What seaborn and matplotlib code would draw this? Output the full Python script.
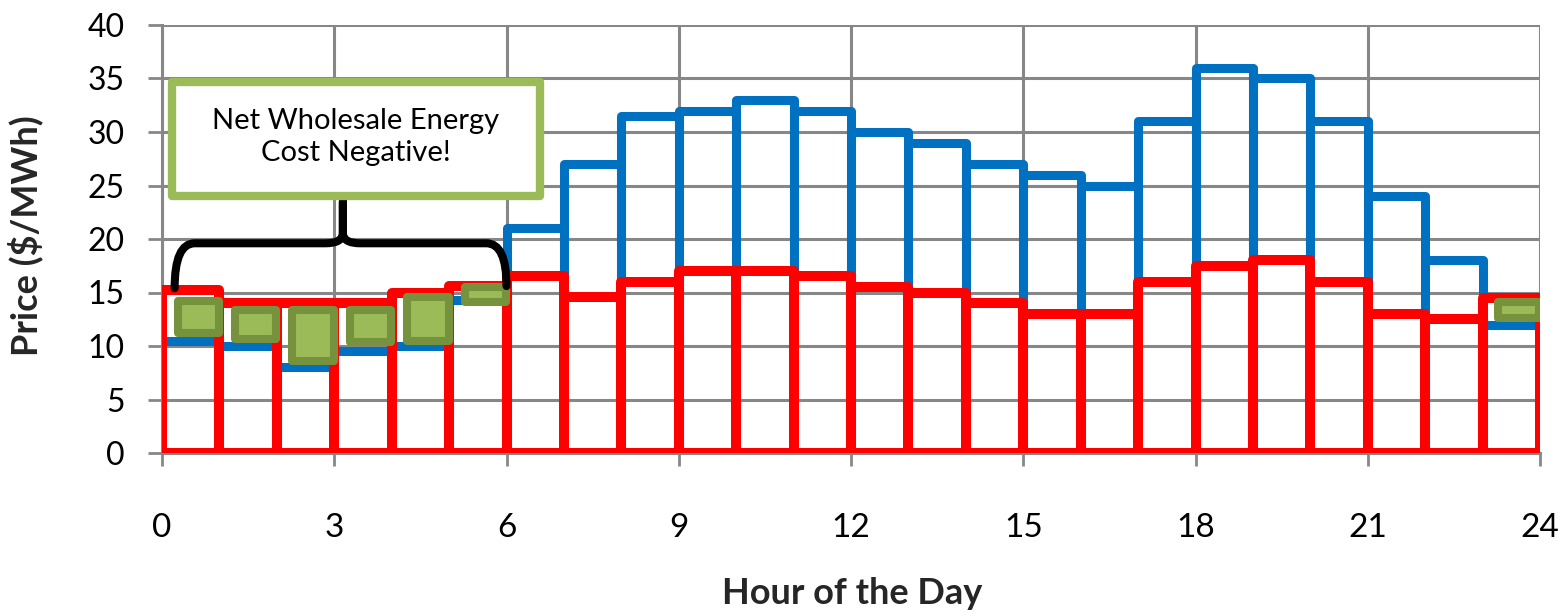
import numpy as np
import pandas as pd
import matplotlib
matplotlib.use("Agg")
import matplotlib.pyplot as plt
from matplotlib.patches import Rectangle, PathPatch
from matplotlib.path import Path
import seaborn as sns

# ---- data ----
hours = list(range(24))
blue_price = [10.5, 10, 8, 9.5, 10, 14.3, 21, 27, 31.5, 32, 33, 32,
              30, 29, 27, 26, 25, 31, 36, 35, 31, 24, 18, 12]
red_price = [15.2, 14, 14, 14, 15, 15.6, 16.5, 14.6, 16, 17, 17, 16.5,
             15.5, 15, 14, 13, 13, 16, 17.5, 18, 16, 13, 12.5, 14.5]
neg_hours = [0, 1, 2, 3, 4, 5, 23]
neg_low = [11.2, 10.7, 8.6, 10.4, 10.5, 14.1, 12.6]
neg_high = [14.2, 13.4, 13.4, 13.4, 14.6, 15.5, 14.1]
x_ticks = [0, 3, 6, 9, 12, 15, 18, 21, 24]
y_ticks = [0, 5, 10, 15, 20, 25, 30, 35, 40]
annotation = "Net Wholesale Energy\nCost Negative!"
x_label = "Hour of the Day"
y_label = "Price ($/MWh)"

sns.set_style("white")
plt.rcParams["font.family"] = ["Lato", "DejaVu Sans"]

W, H = 1562, 616
fig = plt.figure(figsize=(W / 100, H / 100), dpi=100)
L, R, T, B = 162, 1540, 25, 453
ax = fig.add_axes([L / W, 1 - B / H, (R - L) / W, (B - T) / H])

GRID = "#878787"
BLUE = "#0070C0"
RED = "#FF0000"
GFILL = "#9BBB59"
GEDGE = "#76923C"

centers = [h + 0.5 for h in hours]

# blue outlined bars (drawn first, behind)
blue_df = pd.DataFrame({"center": centers, "price": blue_price})
sns.barplot(data=blue_df, x="center", y="price", native_scale=True, width=1,
            fill=False, color=BLUE, linewidth=6.5, errorbar=None, ax=ax)
n_blue = len(ax.patches)
for p in ax.patches:
    p.set_edgecolor(BLUE)
    p.set_facecolor("none")
    p.set_joinstyle("round")
    p.set_zorder(3)

# red outlined bars (on top)
red_df = pd.DataFrame({"center": centers, "price": red_price})
sns.barplot(data=red_df, x="center", y="price", native_scale=True, width=1,
            fill=False, color=RED, linewidth=7.2, errorbar=None, ax=ax)
for p in ax.patches[n_blue:]:
    p.set_edgecolor(RED)
    p.set_facecolor("none")
    p.set_joinstyle("round")
    p.set_zorder(4)

# green boxes for the negative-cost hours
for h, lo, hi in zip(neg_hours, neg_low, neg_high):
    ax.add_patch(Rectangle((h + 0.27, lo), 0.72, hi - lo, facecolor=GFILL,
                           edgecolor=GEDGE, linewidth=5.8, joinstyle="round",
                           zorder=5))

# brace
bx0, bx1, bm = 0.22, 6.0, 3.15
by, bt = 19.6, 23.5
verts = [(bx0, 15.4), (bx0, by), (bx0 + 0.35, by),
         (bm - 0.3, by),
         (bm, by), (bm, 20.6),
         (bm, bt), (bm, 20.6),
         (bm, by), (bm + 0.3, by),
         (bx1 - 0.35, by),
         (bx1, by), (bx1, 15.6)]
codes = [Path.MOVETO, Path.CURVE3, Path.CURVE3,
         Path.LINETO,
         Path.CURVE3, Path.CURVE3,
         Path.LINETO, Path.LINETO,
         Path.CURVE3, Path.CURVE3,
         Path.LINETO,
         Path.CURVE3, Path.CURVE3]
ax.add_patch(PathPatch(Path(verts, codes), facecolor="none", edgecolor="black",
                       linewidth=5.8, capstyle="round", joinstyle="round",
                       zorder=6))

# annotation box
ax.add_patch(Rectangle((0.0073, 0.600), 0.2670, 0.267, transform=ax.transAxes,
                       facecolor="white", edgecolor=GFILL, linewidth=6,
                       joinstyle="round", zorder=7, clip_on=False))
ax.text(0.1404, 0.738, annotation, transform=ax.transAxes, ha="center",
        va="center", fontsize=21, linespacing=1.3, color="black", zorder=8)

# axes styling
ax.set_xlim(0, 24)
ax.set_ylim(0, 40)
ax.set_xticks(x_ticks)
ax.set_yticks(y_ticks)
ax.set_xticklabels([str(v) for v in x_ticks])
ax.set_yticklabels([str(v) for v in y_ticks])
ax.grid(True, color=GRID, linewidth=2.2, zorder=0)
ax.set_axisbelow(True)
for s in ["top", "right"]:
    ax.spines[s].set_visible(False)
for s in ["left", "bottom"]:
    ax.spines[s].set_color(GRID)
    ax.spines[s].set_linewidth(2.2)
ax.tick_params(axis="y", length=10, width=2, color=GRID, pad=17,
               labelsize=23, labelcolor="black", left=True)
ax.tick_params(axis="x", length=9, width=2, color=GRID, pad=34,
               labelsize=24, labelcolor="black", bottom=True)

ax.set_xlabel(x_label, fontsize=26, fontweight="bold")
ax.set_ylabel(y_label, fontsize=26, fontweight="bold")
ax.xaxis.set_label_coords(0.501, -0.29)
ax.yaxis.set_label_coords(-0.086, 0.507)

fig.savefig("out.png", dpi=100)
